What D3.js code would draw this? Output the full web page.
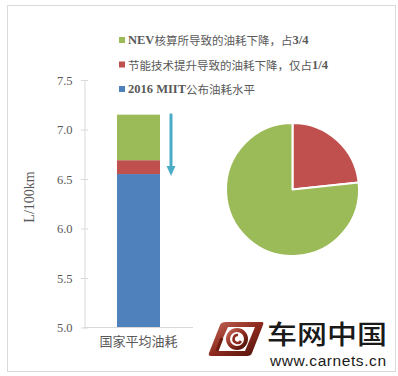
<!DOCTYPE html>
<html>
<head>
<meta charset="utf-8">
<script src="https://cdn.jsdelivr.net/npm/d3@7"></script>
<style>
  html, body { margin: 0; padding: 0; background: #fff; }
  svg { display: block; }
</style>
</head>
<body>
<svg id="chart" width="398" height="376"></svg>
<script>
// Stacked fuel-consumption bar plus the share of the drop, as a pie
const categories = ["国家平均油耗"];
const baseValues = [6.55];   // 2016 MIIT published level
const techValues = [0.14];   // drop from energy-saving technology
const nevValues  = [0.46];   // drop from NEV accounting
const seriesNames = [
  "2016 MIIT公布油耗水平",
  "节能技术提升导致的油耗下降，仅占1/4",
  "NEV核算所导致的油耗下降，占3/4"
];
const seriesColors = ["#4F81BD", "#C0504D", "#9BBB59"];
const yTicks = [5.0, 5.5, 6.0, 6.5, 7.0, 7.5];
const yLabel = "L/100km";

const svg = d3.select("#chart");
const axisColor = "#d9d9d9";
const textColor = "#595959";

// outer frame
svg.append("rect")
  .attr("x", 7.5).attr("y", 5.5).attr("width", 388).attr("height", 366)
  .attr("fill", "none").attr("stroke", axisColor);

const rows = categories.map((c, i) => ({
  cat: c, base: baseValues[i], tech: techValues[i], nev: nevValues[i]
}));
const keys = ["base", "tech", "nev"];
const stacked = d3.stack().keys(keys)(rows);

// axis starts at 5.0, so values below it are clamped to the baseline
const y = d3.scaleLinear().domain([5, 7.5]).range([327.5, 80]).clamp(true);
const x = d3.scaleBand().domain(categories).range([84, 193]).padding(0.434);

// bars
stacked.forEach((layer, k) => {
  svg.append("g").selectAll("rect").data(layer).join("rect")
    .attr("x", d => x(d.data.cat))
    .attr("width", x.bandwidth())
    .attr("y", d => y(d[1]))
    .attr("height", d => y(d[0]) - y(d[1]))
    .attr("fill", seriesColors[k]);
});

// y axis with cross ticks
const yAxis = d3.axisLeft(y).tickValues(yTicks).tickFormat(d3.format(".1f"))
  .tickSize(0).tickPadding(12);
const gy = svg.append("g").attr("transform", "translate(84.5,0)").call(yAxis);
gy.select(".domain").attr("stroke", axisColor);
gy.selectAll(".tick line").attr("x1", -3.5).attr("x2", 3.5).attr("stroke", axisColor);
gy.selectAll(".tick text")
  .attr("fill", textColor)
  .style("font-family", "'Liberation Serif', serif")
  .style("font-size", "12.5px");

// x axis
const xAxis = d3.axisBottom(x).tickSize(0).tickPadding(9);
const gx = svg.append("g").attr("transform", "translate(0,327.5)").call(xAxis);
gx.select(".domain").attr("stroke", axisColor).attr("d", "M84,0H193");
gx.selectAll(".tick text")
  .attr("fill", textColor)
  .style("font-family", "'Noto Sans CJK SC', sans-serif")
  .style("font-size", "13px");

// y axis title
svg.append("text")
  .attr("transform", "translate(29,197) rotate(-90)")
  .attr("text-anchor", "middle").attr("dominant-baseline", "central")
  .attr("fill", textColor)
  .style("font-family", "'Liberation Serif', serif")
  .style("font-size", "14px")
  .text(yLabel);

// downward arrow beside the bar
const ax = x(categories[0]) + x.bandwidth() + 11;
const yTop = y(baseValues[0] + techValues[0] + nevValues[0]);
const yTip = y(baseValues[0]) + 2;
const arrowColor = "#4BACC6";
svg.append("line")
  .attr("x1", ax).attr("x2", ax).attr("y1", yTop).attr("y2", yTip - 8)
  .attr("stroke", arrowColor).attr("stroke-width", 3).attr("stroke-linecap", "round");
svg.append("path")
  .attr("d", `M${ax - 4.5},${yTip - 10}L${ax + 4.5},${yTip - 10}L${ax},${yTip}Z`)
  .attr("fill", arrowColor);

// legend
const legendRows = [
  { name: seriesNames[2], color: seriesColors[2], cy: 40 },
  { name: seriesNames[1], color: seriesColors[1], cy: 64.5 },
  { name: seriesNames[0], color: seriesColors[0], cy: 89 }
];
const lg = svg.append("g");
legendRows.forEach(r => {
  lg.append("rect").attr("x", 119).attr("y", r.cy - 3).attr("width", 6).attr("height", 6)
    .attr("fill", r.color);
  const t = lg.append("text").attr("x", 128).attr("y", r.cy)
    .attr("dominant-baseline", "central").attr("fill", textColor)
    .style("font-size", "11.5px");
  const parts = r.name.match(/[\x20-\x7e]+|[^\x20-\x7e]+/g);
  parts.forEach(p => {
    const latin = /^[\x20-\x7e]+$/.test(p);
    t.append("tspan").text(p)
      .style("font-family", latin ? "'Liberation Serif', serif" : "'Noto Sans CJK SC', sans-serif")
      .style("font-weight", latin ? "bold" : "normal")
      .style("font-size", latin ? "12.5px" : "11.5px");
  });
});

// pie of the two drop components
const pieData = [
  { v: techValues[0], color: seriesColors[1] },
  { v: nevValues[0], color: seriesColors[2] }
];
const pie = d3.pie().value(d => d.v).sort(null);
const arc = d3.arc().innerRadius(0).outerRadius(66.5);
svg.append("g").attr("transform", "translate(292.5,189.5)")
  .selectAll("path").data(pie(pieData)).join("path")
  .attr("d", arc)
  .attr("fill", d => d.data.color)
  .attr("stroke", "#fff").attr("stroke-width", 2).attr("stroke-linejoin", "round");

// carnets logo mark
const defs = svg.append("defs");
const grad = defs.append("linearGradient").attr("id", "logoGrad")
  .attr("x1", "0").attr("y1", "0").attr("x2", "1").attr("y2", "1");
grad.append("stop").attr("offset", "0").attr("stop-color", "#c46a5a");
grad.append("stop").attr("offset", "0.5").attr("stop-color", "#8e2a1e");
grad.append("stop").attr("offset", "1").attr("stop-color", "#4a1008");
const logo = svg.append("g");
logo.append("path")
  .attr("d", "M226,322 L262,322 Q264,322 263,325 L252,353 Q251,356 247,356 L211,356 Q208,356 209,353 L220,325 Q221,322 226,322 Z")
  .attr("fill", "url(#logoGrad)");
logo.append("path")
  .attr("d", "M228,327 L255,327 L245,351 L217,351 Z")
  .attr("fill", "#fff");
logo.append("circle").attr("cx", 237).attr("cy", 339).attr("r", 9)
  .attr("fill", "none").attr("stroke", "url(#logoGrad)").attr("stroke-width", 4);
logo.append("path")
  .attr("d", "M238,335 A4,4 0 1 0 241,341")
  .attr("fill", "none").attr("stroke", "#8e2a1e").attr("stroke-width", 2.5);
logo.append("path")
  .attr("d", "M217,351 L222,338")
  .attr("stroke", "#6e1a10").attr("stroke-width", 3);

svg.append("text")
  .attr("x", 267).attr("y", 332).attr("dominant-baseline", "central")
  .attr("fill", "#1a1a1a")
  .style("font-family", "'Noto Sans CJK SC', sans-serif")
  .style("font-weight", "500")
  .style("font-size", "26px")
  .attr("textLength", 120)
  .attr("lengthAdjust", "spacingAndGlyphs")
  .text("车网中国");
svg.append("text")
  .attr("x", 270).attr("y", 366)
  .attr("fill", "#1a1a1a")
  .style("font-family", "'Liberation Sans', Arial, sans-serif")
  .style("font-size", "15.5px")
  .attr("textLength", 116)
  .text("www.carnets.cn");
</script>
</body>
</html>
